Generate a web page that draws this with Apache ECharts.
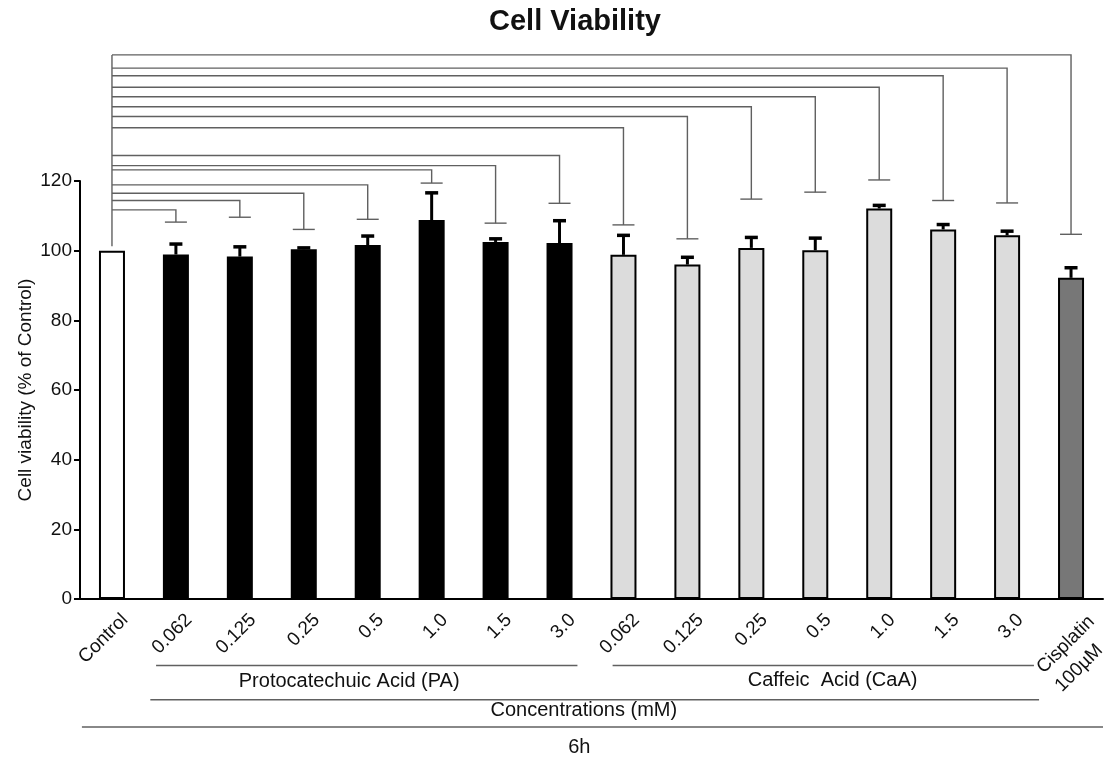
<!DOCTYPE html>
<html>
<head>
<meta charset="utf-8">
<title>Cell Viability</title>
<script src="https://cdn.jsdelivr.net/npm/echarts@6/dist/echarts.min.js"></script>
<style>
  html, body { margin: 0; padding: 0; background: #fff; }
  #chart { width: 1112px; height: 759px; }
</style>
</head>
<body>
<div id="chart"></div>
<script>
// categories along the x axis (PA doses, CaA doses, positive control)
var categories = ['Control', '0.062', '0.125', '0.25', '0.5', '1.0', '1.5', '3.0',
                  '0.062', '0.125', '0.25', '0.5', '1.0', '1.5', '3.0', 'Cisplatin\n100µM'];
// mean cell viability (% of control) and error (SEM)
var viability = [100, 98.9, 98.3, 100.4, 101.6, 108.8, 102.5, 102.2,
                 98.8, 96.0, 100.8, 100.1, 112.1, 106.1, 104.4, 92.2];
var sem = [0, 3.0, 2.8, 0.4, 2.6, 7.8, 0.9, 6.4,
           5.6, 2.1, 3.0, 3.5, 0.9, 1.4, 1.2, 2.9];
// comparison brackets vs Control: height of the bar and of the T end, for categories 1..15
var bracketLevel = [111.7, 114.4, 116.5, 118.9, 123.2, 124.4, 127.3,
                    135.3, 138.5, 141.3, 144.2, 146.9, 150.2, 152.4, 156.2];
var bracketEnd = [108.2, 109.6, 106.1, 109.0, 119.4, 107.9, 113.6,
                  107.4, 103.4, 114.8, 116.8, 120.3, 114.4, 113.7, 104.7];
var stemStart = 101.3;
var yTicks = [0, 20, 40, 60, 80, 100, 120];
// group captions under the axis
var groupNames = ['Protocatechuic Acid (PA)', 'Caffeic  Acid (CaA)', 'Concentrations (mM)', '6h'];

// styles / layout
var barColors = ['#ffffff', '#000', '#000', '#000', '#000', '#000', '#000', '#000',
                 '#dcdcdc', '#dcdcdc', '#dcdcdc', '#dcdcdc', '#dcdcdc', '#dcdcdc', '#dcdcdc', '#777777'];
// [start, end, text centre] in category units, [line dy, text dy] in px below the axis
var groupSpan = [[0.69, 7.28, 3.71], [7.83, 14.42, 11.27], [0.60, 14.5, 7.38], [-0.47, 15.5, 7.31]];
var groupDy = [[66.4, 82.5], [66.4, 81.5], [100.7, 111.5], [128, 148]];

var font = 'Liberation Sans, Arial, sans-serif';
var ink = '#111';
var grey = '#606060';

var errData = [];
for (var i = 0; i < viability.length; i++) {
    if (sem[i] > 0) errData.push([i, viability[i], viability[i] + sem[i]]);
}
var bracketData = bracketLevel.map(function (lv, k) {
    return [k + 1, lv, bracketEnd[k]];
});
// the last (two-line) label sits a bit further along than the others
var xAxisData = categories.map(function (c) {
    if (c.indexOf('\n') < 0) return c;
    return { value: c, textStyle: { align: 'right', verticalAlign: 'top', padding: [12, -4, 0, 0] } };
});

var myChart = echarts.init(document.getElementById('chart'));
var option = {
    animation: false,
    textStyle: { fontFamily: font },
    title: {
        text: 'Cell Viability',
        left: 570,
        top: 2,
        textAlign: 'center',
        textStyle: { fontSize: 29, fontWeight: 'bold', color: ink, fontFamily: font }
    },
    grid: { left: 80, right: 9, top: 181, bottom: 160, outerBoundsMode: 'none' },
    xAxis: {
        type: 'category',
        data: xAxisData,
        axisLine: { lineStyle: { color: '#000', width: 2 } },
        axisTick: { alignWithLabel: true, length: 6, lineStyle: { color: '#000', width: 2 } },
        axisLabel: {
            interval: 0,
            rotate: 45,
            margin: 5,
            verticalAlign: 'top',
            padding: [9, 0, 0, 0],
            fontSize: 19,
            color: ink,
            formatter: function (v) {
                if (v.indexOf('\n') < 0) return v;
                return v.split('\n').map(function (s) { return '{l|' + s + '}'; }).join('\n');
            },
            rich: { l: { align: 'left', fontSize: 19, lineHeight: 26, color: ink } }
        }
    },
    yAxis: {
        type: 'value',
        min: yTicks[0],
        max: yTicks[yTicks.length - 1],
        interval: 20,
        name: 'Cell viability (% of Control)',
        nameLocation: 'middle',
        nameGap: 45,
        nameMoveOverlap: false,
        nameTextStyle: { fontSize: 19, color: ink },
        axisLine: { show: true, lineStyle: { color: '#000', width: 2 } },
        axisTick: { show: true, length: 6, lineStyle: { color: '#000', width: 2 } },
        axisLabel: { fontSize: 19, color: ink, margin: 8 },
        splitLine: { show: false }
    },
    series: [
        {
            type: 'bar',
            barWidth: 26,
            data: viability.map(function (v, k) {
                return { value: v, itemStyle: { color: barColors[k] } };
            }),
            itemStyle: { borderColor: '#000', borderWidth: 2 },
            z: 2
        },
        {
            // error bars
            type: 'custom',
            data: errData,
            clip: false,
            z: 3,
            renderItem: function (params, api) {
                var x = api.value(0);
                var p0 = api.coord([x, api.value(1)]);
                var p1 = api.coord([x, api.value(2)]);
                return {
                    type: 'group',
                    children: [
                        { type: 'line', shape: { x1: p0[0], y1: p0[1], x2: p1[0], y2: p1[1] },
                          style: { stroke: '#000', lineWidth: 3 } },
                        { type: 'line', shape: { x1: p1[0] - 6.5, y1: p1[1], x2: p1[0] + 6.5, y2: p1[1] },
                          style: { stroke: '#000', lineWidth: 3.5 } }
                    ]
                };
            }
        },
        {
            // brackets from Control to each group
            type: 'custom',
            data: bracketData,
            clip: false,
            z: 4,
            renderItem: function (params, api) {
                var x = api.value(0);
                var x0 = api.coord([0, 0])[0];
                var top = api.coord([x, api.value(1)]);
                var end = api.coord([x, api.value(2)]);
                return {
                    type: 'group',
                    children: [
                        { type: 'polyline', shape: { points: [[x0, top[1]], [top[0], top[1]], [end[0], end[1]]] },
                          style: { stroke: grey, lineWidth: 1.4, fill: null } },
                        { type: 'line', shape: { x1: end[0] - 11, y1: end[1], x2: end[0] + 11, y2: end[1] },
                          style: { stroke: grey, lineWidth: 1.4 } }
                    ]
                };
            }
        },
        {
            // the Control stem all brackets start from
            type: 'custom',
            data: [[0, stemStart, Math.max.apply(null, bracketLevel)]],
            clip: false,
            z: 4,
            renderItem: function (params, api) {
                var a = api.coord([0, api.value(1)]);
                var b = api.coord([0, api.value(2)]);
                return { type: 'line', shape: { x1: a[0], y1: a[1], x2: b[0], y2: b[1] },
                         style: { stroke: grey, lineWidth: 1.4 } };
            }
        }
    ]
};
myChart.setOption(option);

// group captions and their rules, placed from the axis scale
var c0 = myChart.convertToPixel({ xAxisIndex: 0 }, 0);
var band = myChart.convertToPixel({ xAxisIndex: 0 }, 1) - c0;
var yBase = myChart.convertToPixel({ yAxisIndex: 0 }, 0);
var graphics = [];
groupNames.forEach(function (name, g) {
    var s = groupSpan[g];
    var ly = yBase + groupDy[g][0];
    graphics.push({
        type: 'line',
        shape: { x1: c0 + band * s[0], y1: ly, x2: c0 + band * s[1], y2: ly },
        style: { stroke: grey, lineWidth: 1.5 }
    });
    graphics.push({
        type: 'text',
        x: c0 + band * s[2],
        y: yBase + groupDy[g][1],
        style: { text: name, font: '20px ' + font, fill: ink, align: 'center', verticalAlign: 'middle' }
    });
});
myChart.setOption({ graphic: graphics });
</script>
</body>
</html>
